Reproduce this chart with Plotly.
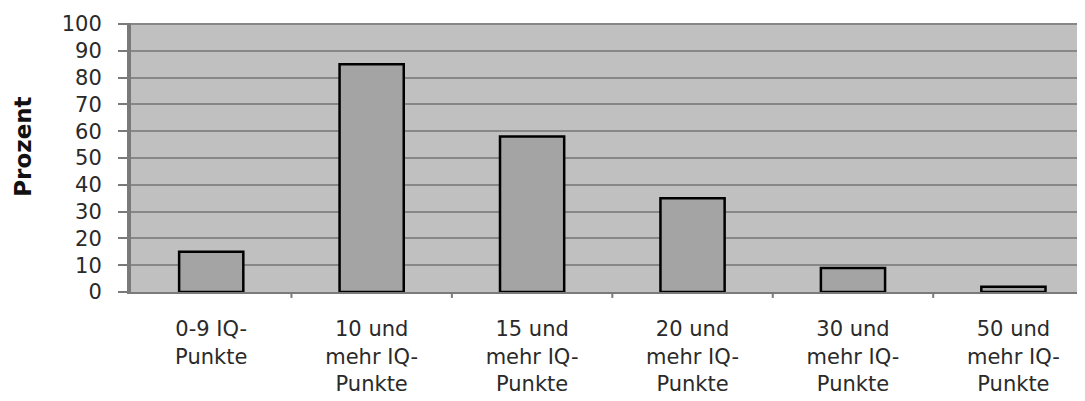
import plotly.graph_objects as go

categories = ["0-9 IQ-<br>Punkte", "10 und<br>mehr IQ-<br>Punkte", "15 und<br>mehr IQ-<br>Punkte",
              "20 und<br>mehr IQ-<br>Punkte", "30 und<br>mehr IQ-<br>Punkte", "50 und<br>mehr IQ-<br>Punkte"]
values = [15, 85, 58, 35, 9, 2]
y_ticks = [0, 10, 20, 30, 40, 50, 60, 70, 80, 90, 100]
y_title = "Prozent"

fig = go.Figure()
fig.add_trace(go.Bar(
    x=list(range(len(categories))), y=values, width=0.4,
    marker=dict(color="#a4a4a4", line=dict(color="#000000", width=2.5)),
))

fig.update_layout(
    width=1085, height=401,
    margin=dict(l=123, r=0, t=15, b=117, autoexpand=False),
    paper_bgcolor="white", plot_bgcolor="#c0c0c0",
    showlegend=False,
    font=dict(family="DejaVu Sans", color="#2a2a2a"),
    xaxis=dict(
        range=[-0.5, 5.496], tickmode="array",
        tickvals=list(range(len(categories))), ticktext=categories,
        showgrid=False, zeroline=False, automargin=False,
        showline=True, linecolor="#7a7a7a", linewidth=2,
        ticks="", tickfont=dict(size=21, color="#2a2a2a"),
        ticklabelstandoff=17,
    ),
    yaxis=dict(
        range=[0, 100.4], tickmode="array", tickvals=y_ticks, automargin=False,
        showgrid=True, gridcolor="#878787", gridwidth=2,
        zeroline=False, showline=True, linecolor="#7a7a7a", linewidth=4,
        ticks="outside", ticklen=9, tickcolor="#7a7a7a", tickwidth=2,
        tickfont=dict(size=21, color="#2a2a2a"), ticklabelstandoff=12,
    ),
    annotations=[dict(
        text="<b>" + y_title + "</b>", textangle=-90,
        xref="paper", yref="paper", x=0, y=0.54, xanchor="center", yanchor="middle",
        xshift=-108, showarrow=False, font=dict(size=23, color="#111111", family="DejaVu Sans"),
    )],
)

# boundary tick marks on the category axis
for b in [i + 0.5 for i in range(len(categories) - 1)]:
    fig.add_shape(type="line", xref="x", yref="paper", x0=b, x1=b, y0=0, y1=-0.022,
                  line=dict(color="#7a7a7a", width=2))

fig.write_html("out.html")
